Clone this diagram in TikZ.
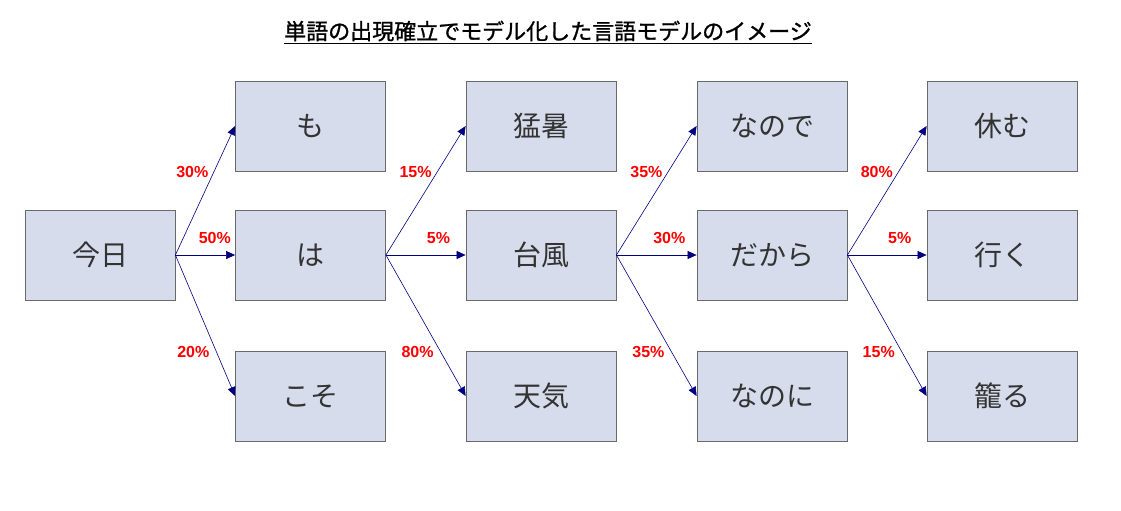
\documentclass[tikz,border=0pt]{standalone}
\usepackage{fontspec}
\setmainfont{Liberation Sans}
\newfontfamily\jpfont{Noto Sans CJK JP}
\newfontfamily\jptitlefont[FakeBold=1.2]{Noto Sans CJK JP}
\definecolor{boxfill}{RGB}{214,220,235}
\definecolor{boxline}{RGB}{105,105,105}
\definecolor{arrownavy}{RGB}{0,0,128}
\definecolor{labelred}{RGB}{255,0,0}
\usetikzlibrary{arrows.meta}

\begin{document}
\begin{tikzpicture}[x=1pt, y=-1pt,
    wordbox/.style={draw=boxline, fill=boxfill, line width=0.8pt, minimum width=150pt, minimum height=90pt,
        inner sep=0pt, text=black!80, font=\jpfont\fontsize{28}{28}\selectfont},
    prob/.style={arrownavy, line width=0.6pt, -{Triangle[length=9pt,width=8pt]}},
    pct/.style={labelred, inner sep=1pt, font=\bfseries\fontsize{16}{16}\selectfont}]

    \useasboundingbox (0,0) rectangle (1121,511);

    % Título
    \node[font=\jptitlefont\fontsize{22}{22}\selectfont] (title) at (548,32)
        {\underline{単語の出現確立でモデル化した言語モデルのイメージ}};

    % Palabras
    \node[wordbox] (kyou) at (100,255) {今日};

    \foreach \name/\word/\x/\y in {mo/も/310.5/126, ha/は/310.5/255, koso/こそ/310.5/396,
            mousho/猛暑/541/126, taifu/台風/541/255, tenki/天気/541/396,
            nanode/なので/772/126, dakara/だから/772/255, nanoni/なのに/772/396,
            yasumu/休む/1002/126, iku/行く/1002/255, komoru/籠る/1002/396} {
        \node[wordbox] (\name) at (\x,\y) {\word};
    }

    % Probabilidades
    \foreach \src/\up/\mid/\down/\pu/\pm/\pd in {kyou/mo/ha/koso/30/50/20,
            ha/mousho/taifu/tenki/15/5/80,
            taifu/nanode/dakara/nanoni/35/30/35,
            dakara/yasumu/iku/komoru/80/5/15} {
        \draw[prob] (\src.east) -- (\up.west) node[pct, pos=0.64, anchor=east, xshift=-4pt] {\pu\%};
        \draw[prob] (\src.east) -- (\mid.west) node[pct, pos=0.66, anchor=south, yshift=10pt] {\pm\%};
        \draw[prob] (\src.east) -- (\down.west) node[pct, pos=0.69, anchor=east, xshift=-6pt] {\pd\%};
    }
\end{tikzpicture}
\end{document}
